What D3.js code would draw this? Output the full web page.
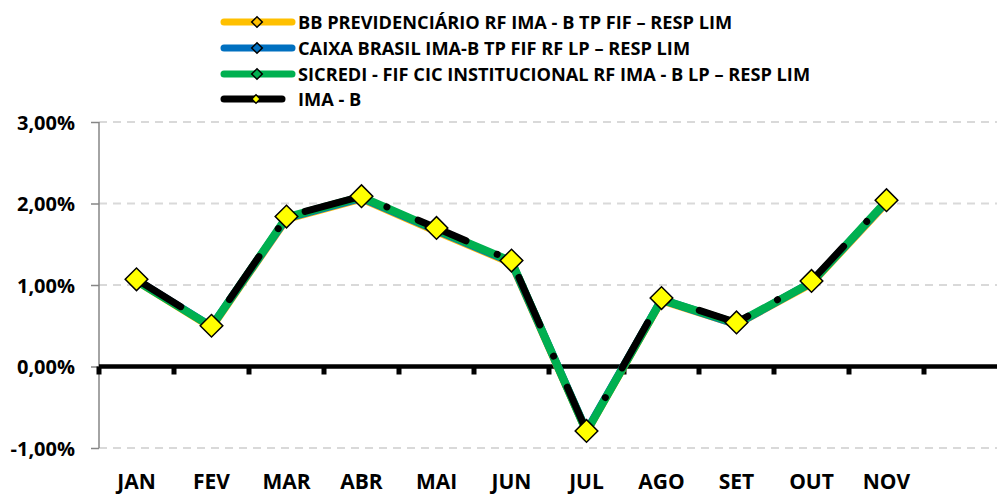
<!DOCTYPE html>
<html>
<head>
<meta charset="utf-8">
<script src="https://cdn.jsdelivr.net/npm/d3@7"></script>
<style>
  body { margin: 0; background: #fff; }
  svg { display: block; }
  text { font-family: "Open Sans", "DejaVu Sans", sans-serif; font-weight: bold; fill: #000; }
</style>
</head>
<body>
<svg id="chart" width="997" height="495"></svg>
<script>
// categories (12 slots, December still empty)
const months = ["JAN", "FEV", "MAR", "ABR", "MAI", "JUN", "JUL", "AGO", "SET", "OUT", "NOV", "DEZ"];
const yTicks = [3, 2, 1, 0, -1];

// monthly returns in %
const bbPrev   = [1.05, 0.48, 1.81, 2.06, 1.66, 1.27, -0.80, 0.81, 0.52, 1.02, 2.01];
const caixa    = [1.06, 0.49, 1.82, 2.07, 1.67, 1.28, -0.79, 0.82, 0.52, 1.03, 2.02];
const sicredi  = [1.05, 0.49, 1.83, 2.08, 1.68, 1.29, -0.80, 0.82, 0.53, 1.03, 2.03];
const imaB     = [1.07, 0.50, 1.84, 2.09, 1.70, 1.30, -0.79, 0.84, 0.54, 1.05, 2.04];

const seriesNames = [
  "BB PREVIDENCIÁRIO RF IMA - B TP FIF – RESP LIM",
  "CAIXA BRASIL IMA-B TP FIF RF LP – RESP LIM",
  "SICREDI - FIF CIC INSTITUCIONAL RF IMA - B LP – RESP LIM",
  "IMA - B"
];
const seriesColors = ["#FFC000", "#0070C0", "#00B050", "#000000"];
const seriesValues = [bbPrev, caixa, sicredi, imaB];

const svg = d3.select("#chart");
const m = {left: 99, right: 999, top: 122, bottom: 448};

const x = d3.scaleBand().domain(months).range([m.left, m.right]);
const y = d3.scaleLinear().domain([-1, 3]).range([m.bottom, m.top]);
const cx = (d, i) => x(months[i]) + x.bandwidth() / 2;

// gridlines
svg.append("g")
  .selectAll("line")
  .data(yTicks.filter(d => d !== 0))
  .enter()
  .append("line")
  .attr("x1", m.left).attr("x2", m.right)
  .attr("y1", d => y(d)).attr("y2", d => y(d))
  .attr("stroke", "#d9d9d9")
  .attr("stroke-width", 2)
  .attr("stroke-dasharray", "8,6");

// y axis
const yAxis = svg.append("g")
  .attr("transform", "translate(" + m.left + ",0)")
  .call(d3.axisLeft(y).tickValues(yTicks).tickSize(8).tickFormat(""));
yAxis.select(".domain").attr("stroke", "#868686").attr("stroke-width", 1.5)
  .attr("d", "M0," + m.top + "V" + m.bottom);
yAxis.selectAll(".tick line").attr("stroke", "#868686").attr("stroke-width", 1.5);

svg.append("g")
  .selectAll("text")
  .data(yTicks)
  .enter()
  .append("text")
  .attr("x", 75)
  .attr("y", d => y(d) + 7.5)
  .attr("text-anchor", "end")
  .attr("font-size", 20)
  .text(d => d.toFixed(2).replace(".", ",") + "%");

// zero line with category ticks
const xAxis = svg.append("g")
  .attr("transform", "translate(0," + y(0) + ")");
xAxis.append("line")
  .attr("x1", m.left).attr("x2", m.right)
  .attr("stroke", "#000").attr("stroke-width", 4.5);
xAxis.selectAll("rect.tk")
  .data(months)
  .enter()
  .append("rect")
  .attr("class", "tk")
  .attr("x", d => x(d) - 2.5)
  .attr("y", 0)
  .attr("width", 5)
  .attr("height", 8)
  .attr("fill", "#000");

// month labels
svg.append("g")
  .selectAll("text")
  .data(months.slice(0, imaB.length))
  .enter()
  .append("text")
  .attr("x", d => x(d) + x.bandwidth() / 2)
  .attr("y", 489)
  .attr("text-anchor", "middle")
  .attr("font-size", 21)
  .text(d => d);

// series lines
const line = d3.line().x(cx).y(d => y(d));

[0, 1, 2].forEach(k => {
  svg.append("path")
    .datum(seriesValues[k])
    .attr("fill", "none")
    .attr("stroke", seriesColors[k])
    .attr("stroke-width", 8)
    .attr("stroke-linejoin", "round")
    .attr("stroke-linecap", "round")
    .attr("d", line);
});

svg.append("path")
  .datum(imaB)
  .attr("fill", "none")
  .attr("stroke", "#000")
  .attr("stroke-width", 7)
  .attr("stroke-linecap", "round")
  .attr("stroke-linejoin", "round")
  .attr("stroke-dasharray", "52,34,0.01,34")
  .attr("d", line);

// markers
const diamond = (s) => d3.symbol().type(d3.symbolSquare).size(s * s)();

[0, 1, 2].forEach(k => {
  svg.append("g")
    .selectAll("path")
    .data(seriesValues[k])
    .enter()
    .append("path")
    .attr("d", diamond(7.5))
    .attr("transform", (d, i) => "translate(" + cx(d, i) + "," + y(d) + ") rotate(45)")
    .attr("fill", seriesColors[k])
    .attr("stroke", "#000")
    .attr("stroke-width", 1.5);
});

svg.append("g")
  .selectAll("path")
  .data(imaB)
  .enter()
  .append("path")
  .attr("d", diamond(16))
  .attr("transform", (d, i) => "translate(" + cx(d, i) + "," + y(d) + ") rotate(45)")
  .attr("fill", "#FFFF00")
  .attr("stroke", "#000")
  .attr("stroke-width", 1.5);

// legend
const legendRows = [22, 48, 74, 99];
const legend = svg.append("g");
seriesNames.forEach((name, k) => {
  const g = legend.append("g").attr("transform", "translate(0," + legendRows[k] + ")");
  const x2 = k === 3 ? 282 : 292;
  g.append("line")
    .attr("x1", 224).attr("x2", x2)
    .attr("stroke", seriesColors[k])
    .attr("stroke-width", 7)
    .attr("stroke-linecap", "round");
  g.append("path")
    .attr("d", diamond(k === 3 ? 6 : 7.5))
    .attr("transform", "translate(" + (k === 3 ? 256 : 257) + ",0) rotate(45)")
    .attr("fill", k === 3 ? "#FFFF00" : seriesColors[k])
    .attr("stroke", "#000")
    .attr("stroke-width", 1.5);
  g.append("text")
    .attr("x", 298)
    .attr("y", 6.5)
    .attr("font-size", 18.2)
    .text(name);
});
</script>
</body>
</html>
